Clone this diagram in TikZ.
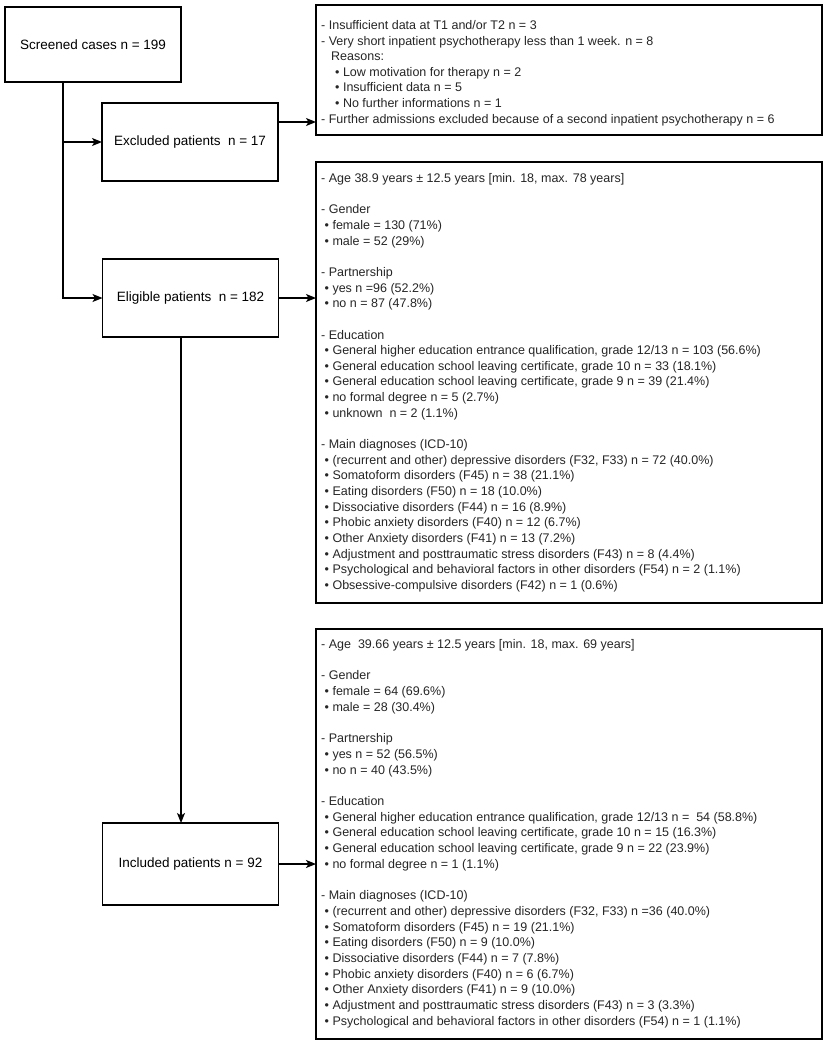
\documentclass[tikz,border=0pt]{standalone}
\usepackage{fontspec}
\setmainfont{Liberation Sans}
\usetikzlibrary{arrows.meta}
\def\infopitch{15.65}
\newcommand\boxline[4]{\node[infoline] (#1) at (321,{#2+#3*\infopitch}) {#4};}
\newcommand\bul{\hspace*{3.5pt}•\ }
\tikzset{
  flowbox/.style={draw=black, line width=1.4pt, inner sep=0pt, outer sep=0pt,
    minimum width=176pt, font=\fontsize{13.5}{16}\selectfont, text=black},
  infobox/.style={draw=black, line width=1.4pt, inner sep=0pt, outer sep=0pt, anchor=north west},
  infoline/.style={anchor=base west, inner sep=0pt, font=\fontsize{12.5}{15}\selectfont, text=black!85},
  conn/.style={line width=1.4pt},
  arr/.style={line width=1.4pt, -{Stealth[length=10pt,width=8pt,inset=2.5pt]}},
}
\begin{document}
\begin{tikzpicture}[x=1pt,y=-1pt]
\useasboundingbox (0,0) rectangle (827,1046);
\fill[white] (0,0) rectangle (827,1046);

% left flow boxes
\node[flowbox, minimum height=75pt] (scr) at (93,44.5) {Screened cases n = 199};
\node[flowbox, minimum height=78pt] (exc) at (190,142) {Excluded patients\ \ n = 17};
\node[flowbox, minimum height=78pt] (elig) at (190.5,298) {Eligible patients\ \ n = 182};
\node[flowbox, minimum height=82pt] (incl) at (190.5,864) {Included patients n = 92};

% right info boxes
\node[infobox, minimum width=506pt, minimum height=130pt] (info1) at (316,5) {};
\node[infobox, minimum width=506pt, minimum height=441pt] (info2) at (316,162) {};
\node[infobox, minimum width=506pt, minimum height=410pt] (info3) at (316,629) {};

% connectors
\coordinate (trunk) at (63,0);
\coordinate (mid) at (181,0);
\coordinate (excy) at (0,122);
\draw[arr] (scr.south -| trunk) |- (elig.west);
\draw[arr] (trunk |- exc.west) -- (exc.west);
\draw[arr] (exc.east |- excy) -- (info1.west |- excy);
\draw[arr] (elig.east) -- (info2.west |- elig.east);
\draw[arr] (elig.south -| mid) -- (incl.north -| mid);
\draw[arr] (incl.east) -- (info3.west |- incl.east);

% top info box
\def\infopitch{15.6}
\boxline{a0}{29.5}{0}{- Insufficient data at T1 and/or T2 n = 3}
\boxline{a1}{29.5}{1}{- Very short inpatient psychotherapy less than 1 week. n = 8}
\boxline{a2}{29.5}{2}{\hspace*{10pt}Reasons:}
\boxline{a3}{29.5}{3}{\hspace*{14pt}•\ Low motivation for therapy n = 2}
\boxline{a4}{29.5}{4}{\hspace*{14pt}•\ Insufficient data n = 5}
\boxline{a5}{29.5}{5}{\hspace*{14pt}•\ No further informations n = 1}
\boxline{a6}{29.5}{6}{- Further admissions excluded because of a second inpatient psychotherapy n = 6}

% middle info box
\def\infopitch{15.65}
\boxline{b0}{182.5}{0}{- Age 38.9 years ± 12.5 years [min. 18, max. 78 years]}
\boxline{b2}{182.5}{2}{- Gender}
\boxline{b3}{182.5}{3}{\bul female = 130 (71\%)}
\boxline{b4}{182.5}{4}{\bul male = 52 (29\%)}
\boxline{b6}{182.5}{6}{- Partnership}
\boxline{b7}{182.5}{7}{\bul yes n =96 (52.2\%)}
\boxline{b8}{182.5}{8}{\bul no n = 87 (47.8\%)}
\boxline{b10}{182.5}{10}{- Education}
\boxline{b11}{182.5}{11}{\bul General higher education entrance qualification, grade 12/13 n = 103 (56.6\%)}
\boxline{b12}{182.5}{12}{\bul General education school leaving certificate, grade 10 n = 33 (18.1\%)}
\boxline{b13}{182.5}{13}{\bul General education school leaving certificate, grade 9 n = 39 (21.4\%)}
\boxline{b14}{182.5}{14}{\bul no formal degree n = 5 (2.7\%)}
\boxline{b15}{182.5}{15}{\bul unknown\ \ n = 2 (1.1\%)}
\boxline{b17}{182.5}{17}{- Main diagnoses (ICD-10)}
\boxline{b18}{182.5}{18}{\bul (recurrent and other) depressive disorders (F32, F33) n = 72 (40.0\%)}
\boxline{b19}{182.5}{19}{\bul Somatoform disorders (F45) n = 38 (21.1\%)}
\boxline{b20}{182.5}{20}{\bul Eating disorders (F50) n = 18 (10.0\%)}
\boxline{b21}{182.5}{21}{\bul Dissociative disorders (F44) n = 16 (8.9\%)}
\boxline{b22}{182.5}{22}{\bul Phobic anxiety disorders (F40) n = 12 (6.7\%)}
\boxline{b23}{182.5}{23}{\bul Other Anxiety disorders (F41) n = 13 (7.2\%)}
\boxline{b24}{182.5}{24}{\bul Adjustment and posttraumatic stress disorders (F43) n = 8 (4.4\%)}
\boxline{b25}{182.5}{25}{\bul Psychological and behavioral factors in other disorders (F54) n = 2 (1.1\%)}
\boxline{b26}{182.5}{26}{\bul Obsessive-compulsive disorders (F42) n = 1 (0.6\%)}

% bottom info box
\def\infopitch{15.7}
\boxline{c0}{648.5}{0}{- Age\ \ 39.66 years ± 12.5 years [min. 18, max. 69 years]}
\boxline{c2}{648.5}{2}{- Gender}
\boxline{c3}{648.5}{3}{\bul female = 64 (69.6\%)}
\boxline{c4}{648.5}{4}{\bul male = 28 (30.4\%)}
\boxline{c6}{648.5}{6}{- Partnership}
\boxline{c7}{648.5}{7}{\bul yes n = 52 (56.5\%)}
\boxline{c8}{648.5}{8}{\bul no n = 40 (43.5\%)}
\boxline{c10}{648.5}{10}{- Education}
\boxline{c11}{648.5}{11}{\bul General higher education entrance qualification, grade 12/13 n =\ \ 54 (58.8\%)}
\boxline{c12}{648.5}{12}{\bul General education school leaving certificate, grade 10 n = 15 (16.3\%)}
\boxline{c13}{648.5}{13}{\bul General education school leaving certificate, grade 9 n = 22 (23.9\%)}
\boxline{c14}{648.5}{14}{\bul no formal degree n = 1 (1.1\%)}
\boxline{c16}{648.5}{16}{- Main diagnoses (ICD-10)}
\boxline{c17}{648.5}{17}{\bul (recurrent and other) depressive disorders (F32, F33) n =36 (40.0\%)}
\boxline{c18}{648.5}{18}{\bul Somatoform disorders (F45) n = 19 (21.1\%)}
\boxline{c19}{648.5}{19}{\bul Eating disorders (F50) n = 9 (10.0\%)}
\boxline{c20}{648.5}{20}{\bul Dissociative disorders (F44) n = 7 (7.8\%)}
\boxline{c21}{648.5}{21}{\bul Phobic anxiety disorders (F40) n = 6 (6.7\%)}
\boxline{c22}{648.5}{22}{\bul Other Anxiety disorders (F41) n = 9 (10.0\%)}
\boxline{c23}{648.5}{23}{\bul Adjustment and posttraumatic stress disorders (F43) n = 3 (3.3\%)}
\boxline{c24}{648.5}{24}{\bul Psychological and behavioral factors in other disorders (F54) n = 1 (1.1\%)}
\end{tikzpicture}
\end{document}
